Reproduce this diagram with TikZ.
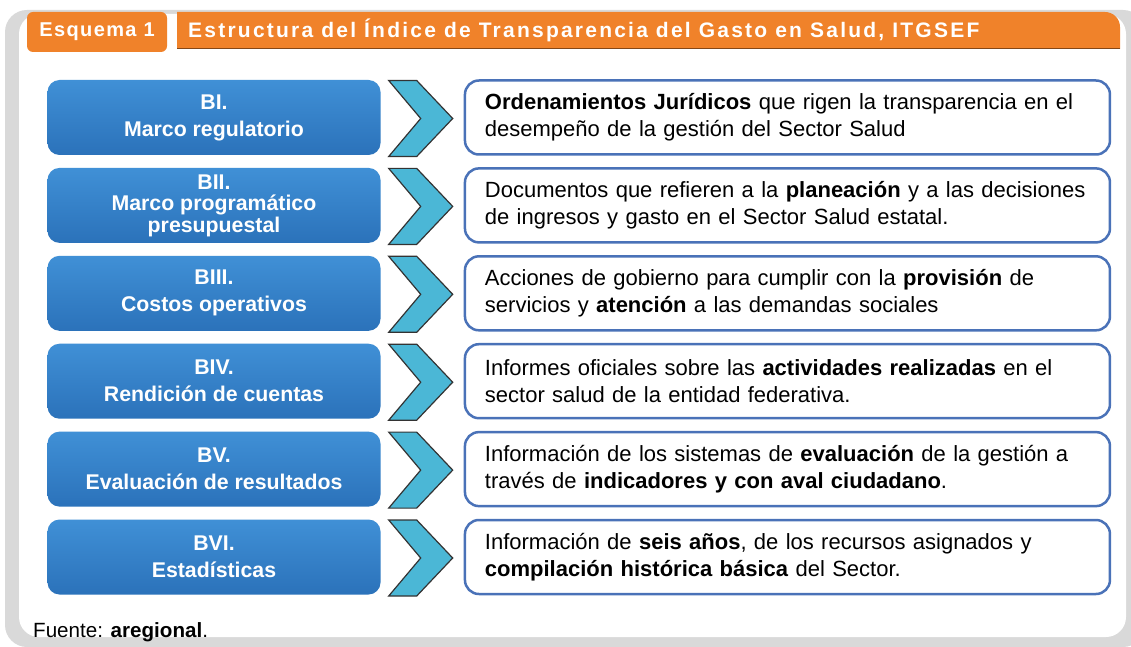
\documentclass[tikz,border=0pt]{standalone}
\usepackage{fontspec}
\setmainfont{Liberation Sans}
\newfontfamily\titlefont[LetterSpace=10.6]{Liberation Sans}
\newfontfamily\tabfont[LetterSpace=7]{Liberation Sans}
\usetikzlibrary{positioning, calc}
\definecolor{naranja}{HTML}{F0822A}
\definecolor{azulclaro}{HTML}{4090D6}
\definecolor{azulmedio}{HTML}{2E7BC4}
\definecolor{azulbloque}{HTML}{2B72BA}
\definecolor{azulborde}{HTML}{4A72B8}
\definecolor{celeste}{HTML}{4BB7D6}
\definecolor{marco}{HTML}{D9D9D9}

\tikzset{
  bloque/.style={rounded corners=12pt, top color=azulclaro, middle color=azulmedio, bottom color=azulbloque,
    minimum width=333pt, minimum height=75pt, inner sep=0pt, text=white,
    font=\fontsize{21.3}{27}\selectfont\bfseries, align=center},
  flecha/.style={fill=celeste, draw=black!80, line width=1.2pt, line join=miter},
  desc/.style={draw=azulborde, line width=2.5pt, fill=white, rounded corners=14pt,
    minimum height=74pt, inner xsep=20pt, text width=605pt, align=left,
    font=\fontsize{22}{27}\selectfont}
}

\begin{document}
\begin{tikzpicture}[x=1pt, y=-1pt]
  \useasboundingbox (0,0) rectangle (1131,647);

  % marco
  \fill[marco, rounded corners=22pt] (5,10) rectangle (1145,647);
  \fill[white, rounded corners=20pt] (19,14) rectangle (1126,637);

  % encabezado
  \fill[naranja] (177,49) -- (177,12) [rounded corners=15pt]-- (1120,12) [sharp corners]-- (1120,49) -- cycle;
  \draw[naranja!55!black, line width=1.5pt] (177,48.5) -- (1120,48.5);
  \node[fill=naranja, rounded corners=6pt, minimum width=140pt, minimum height=40pt,
        text=white, font=\tabfont\fontsize{20}{20}\selectfont\bfseries] (esquema) at (97,32) {Esquema 1};
  \node[anchor=west, inner sep=0pt, text=white, font=\titlefont\fontsize{21}{21}\selectfont\bfseries] (titulo) at (188,30)
       {Estructura del Índice de Transparencia del Gasto en Salud, ITGSEF};

  % bloques
  \node[bloque] (b1) at (214,117.5) {BI.\\Marco regulatorio};
  \node[bloque, below=12.5pt of b1, font=\fontsize{21.3}{21.5}\selectfont\bfseries] (b2) {BII.\\Marco programático\\presupuestal};
  \node[bloque, below=12.5pt of b2] (b3) {BIII.\\Costos operativos};
  \node[bloque, below=12.5pt of b3] (b4) {BIV.\\Rendición de cuentas};
  \node[bloque, below=12.5pt of b4] (b5) {BV.\\Evaluación de resultados};
  \node[bloque, below=12.5pt of b5] (b6) {BVI.\\Estadísticas};

  % flechas
  \draw[flecha] ($(b1.east)+(8,-37)$) -- ++(28,0) -- ++(36,38) -- ++(-36,38) -- ++(-28,0) -- ++(32,-38) -- cycle;
  \draw[flecha] ($(b2.east)+(8,-37)$) -- ++(28,0) -- ++(36,38) -- ++(-36,38) -- ++(-28,0) -- ++(32,-38) -- cycle;
  \draw[flecha] ($(b3.east)+(8,-37)$) -- ++(28,0) -- ++(36,38) -- ++(-36,38) -- ++(-28,0) -- ++(32,-38) -- cycle;
  \draw[flecha] ($(b4.east)+(8,-37)$) -- ++(28,0) -- ++(36,38) -- ++(-36,38) -- ++(-28,0) -- ++(32,-38) -- cycle;
  \draw[flecha] ($(b5.east)+(8,-37)$) -- ++(28,0) -- ++(36,38) -- ++(-36,38) -- ++(-28,0) -- ++(32,-38) -- cycle;
  \draw[flecha] ($(b6.east)+(8,-37)$) -- ++(28,0) -- ++(36,38) -- ++(-36,38) -- ++(-28,0) -- ++(32,-38) -- cycle;

  % descripciones
  \node[desc, right=83pt of b1] (d1) {\textbf{Ordenamientos Jurídicos} que rigen la transparencia en el\\desempeño de la gestión del Sector Salud};
  \node[desc, right=83pt of b2] (d2) {Documentos que refieren a la \textbf{planeación} y a las decisiones\\de ingresos y gasto en el Sector Salud estatal.};
  \node[desc, right=83pt of b3] (d3) {Acciones de gobierno para cumplir con la \textbf{provisión} de\\servicios y \textbf{atención} a las demandas sociales};
  \node[desc, right=83pt of b4] (d4) {Informes oficiales sobre las \textbf{actividades realizadas} en el\\sector salud de la entidad federativa.};
  \node[desc, right=83pt of b5] (d5) {Información de los sistemas de \textbf{evaluación} de la gestión a\\través de \textbf{indicadores y con aval ciudadano}.};
  \node[desc, right=83pt of b6] (d6) {Información de \textbf{seis años}, de los recursos asignados y\\\textbf{compilación histórica básica} del Sector.};

  % fuente
  \node[anchor=base west, inner sep=0pt, font=\fontsize{20.6}{24}\selectfont] (fuente) at (33,637) {Fuente: \textbf{aregional}.};
\end{tikzpicture}
\end{document}
